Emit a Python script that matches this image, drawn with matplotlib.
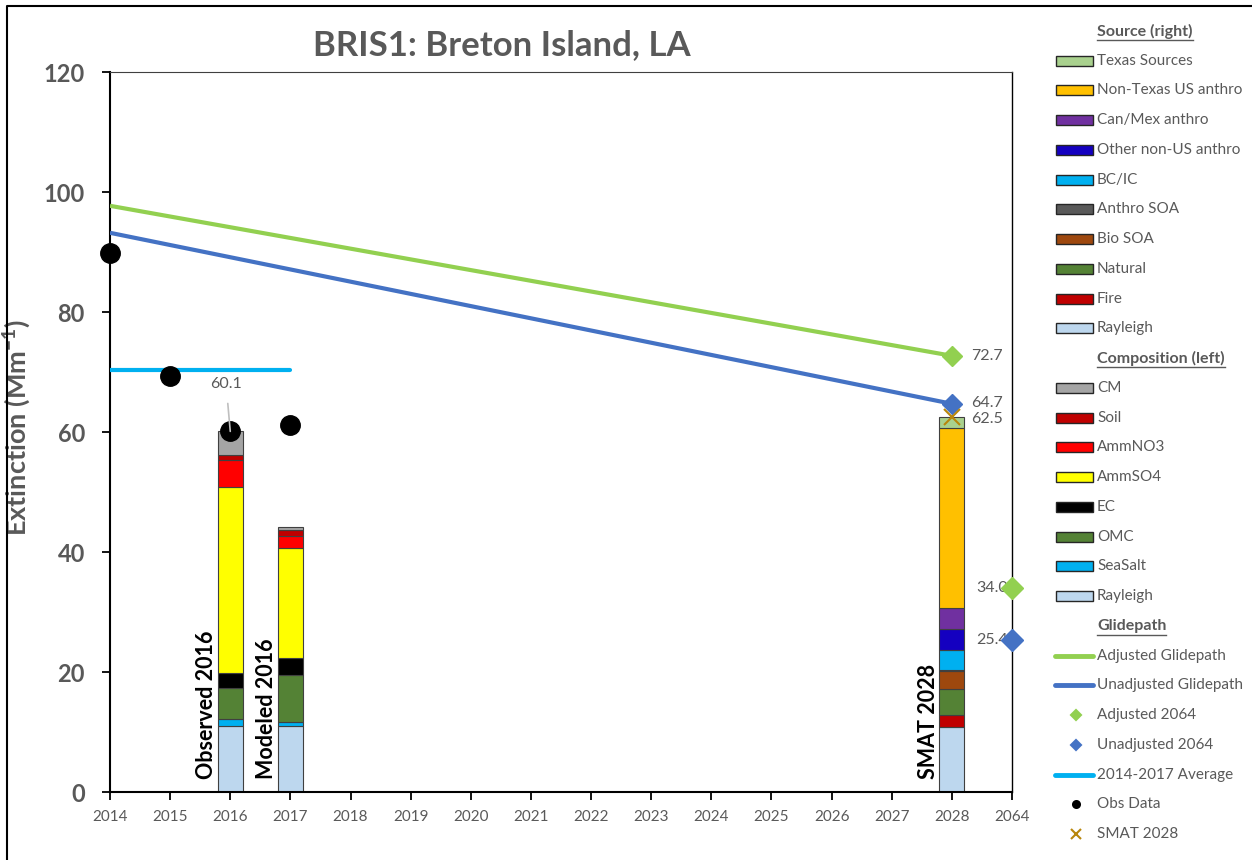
import numpy as np
import matplotlib
matplotlib.use('Agg')
import matplotlib.pyplot as plt
from matplotlib.patches import Rectangle

plt.rcParams['font.family']=['Lato','DejaVu Sans']
plt.rcParams['mathtext.fontset']='custom'
plt.rcParams['mathtext.rm']='Lato'
plt.rcParams['mathtext.bf']='Lato:bold'

years=['2014','2015','2016','2017','2018','2019','2020','2021','2022','2023','2024','2025','2026','2027','2028','2064']

#composition stacks (bottom to top)
compNames=['Rayleigh','SeaSalt','OMC','EC','AmmSO4','AmmNO3','Soil','CM']
compColors=['#BDD7EE','#00B0F0','#548235','#000000','#FFFF00','#FF0000','#C00000','#A5A5A5']
observed2016=[11.0,1.1,5.2,2.6,30.9,4.6,0.7,4.0]
modeled2016=[11.0,0.6,7.9,2.9,18.3,1.9,1.0,0.5]

#source apportionment stack for 2028 (bottom to top)
srcNames=['Rayleigh','Fire','Natural','Bio SOA','Anthro SOA','BC/IC','Other non-US anthro',
          'Can/Mex anthro','Non-Texas US anthro','Texas Sources']
srcColors=['#BDD7EE','#C00000','#548235','#9E480E','#595959','#00B0F0','#1400C0',
           '#7030A0','#FFC000','#A9D18E']
smat2028=[10.9,1.9,4.3,3.1,0.1,3.4,3.5,3.5,30.0,1.8]

barLabels=['Observed 2016','Modeled 2016','SMAT 2028']
barYears=['2016','2017','2028']

#glidepath and observations
glideYears=['2014','2028']
adjGlide=[97.7,72.7]
unadjGlide=[93.2,64.7]
adj2064=34.0
unadj2064=25.4
avgYears=['2014','2017']
avgValue=70.3
obsYears=['2014','2015','2016','2017']
obsValues=[89.9,69.4,60.1,61.2]

gray='#595959'
W,H=1252,860
fig=plt.figure(figsize=(W/100,H/100),dpi=100)
ax=fig.add_axes([110/W,1-792/H,902/W,720/H])

def xpos(yrs):
    return [years.index(y) for y in yrs]

bw=0.42
#stacked bars
for stack,names,colors,yr in [(observed2016,compNames,compColors,'2016'),
                              (modeled2016,compNames,compColors,'2017'),
                              (smat2028,srcNames,srcColors,'2028')]:
    bottom=0
    for v,c in zip(stack,colors):
        ax.bar(years.index(yr),v,bottom=bottom,width=bw,color=c,edgecolor='#404040',linewidth=0.8,zorder=2)
        bottom+=v

for lbl,yr in zip(barLabels,barYears):
    ax.text(years.index(yr)-bw/2-0.18,2.2,lbl,rotation=90,ha='center',va='bottom',
            fontsize=15.5,fontweight='bold',color='black',zorder=5)

#glidepaths
ax.plot(xpos(glideYears),adjGlide,color='#92D050',lw=3,zorder=3,solid_capstyle='butt')
ax.plot(xpos(glideYears),unadjGlide,color='#4472C4',lw=3,zorder=3,solid_capstyle='butt')
ax.plot(years.index('2028'),adjGlide[-1],marker='D',ms=10,color='#92D050',zorder=4)
ax.plot(years.index('2028'),unadjGlide[-1],marker='D',ms=10,color='#4472C4',zorder=4)
ax.plot(years.index('2064'),adj2064,marker='D',ms=11,color='#92D050',zorder=4,clip_on=False)
ax.plot(years.index('2064'),unadj2064,marker='D',ms=11,color='#4472C4',zorder=4,clip_on=False)

#2014-2017 average
ax.plot(xpos(avgYears),[avgValue,avgValue],color='#00B0F0',lw=3,zorder=3,solid_capstyle='round')

#observations
ax.plot(xpos(obsYears),obsValues,'o',color='black',ms=14,zorder=4,clip_on=False)
smatTotal=sum(smat2028)
ax.plot(years.index('2028'),smatTotal,'x',color='#B8860B',ms=12,mew=1.5,zorder=4)

#value labels
x28=years.index('2028')
x64=years.index('2064')
ax.text(x28+0.32,adjGlide[-1],'%.1f'%adjGlide[-1],fontsize=11.5,color=gray,va='center')
ax.text(x28+0.32,unadjGlide[-1]+0.2,'%.1f'%unadjGlide[-1],fontsize=11.5,color=gray,va='center')
ax.text(x28+0.32,smatTotal-0.4,'%.1f'%smatTotal,fontsize=11.5,color=gray,va='center')
ax.text(x64-0.07,adj2064,'%.1f'%adj2064,fontsize=11.5,color=gray,va='center',ha='right')
ax.text(x64-0.07,unadj2064,'%.1f'%unadj2064,fontsize=11.5,color=gray,va='center',ha='right')
i16=obsYears.index('2016')
ax.annotate('%.1f'%obsValues[i16],xy=(years.index('2016'),obsValues[i16]),
            xytext=(years.index('2016')-0.07,68.0),fontsize=11.5,color=gray,ha='center',va='center',
            arrowprops=dict(arrowstyle='-',color='#BFBFBF',lw=1.2,shrinkA=7,shrinkB=0),zorder=5)

#axes styling
ax.set_xlim(0,len(years)-1)
ax.set_ylim(0,120)
ax.set_xticks(range(len(years)))
ax.set_xticklabels(years)
ax.set_yticks(np.arange(0,121,20))
ax.tick_params(axis='y',direction='out',length=6,width=1.3,labelsize=17,labelcolor=gray,pad=12)
ax.tick_params(axis='x',direction='out',length=6,width=1.3,labelsize=11,labelcolor=gray,pad=7)
for t in ax.get_yticklabels():
    t.set_fontweight('bold')
for s in ['left','bottom']:
    ax.spines[s].set_linewidth(1.5)
ax.spines['top'].set_linewidth(0.8)
ax.spines['top'].set_color('#404040')
ax.spines['right'].set_linewidth(1.0)
ax.set_ylabel('Extinction (Mm$^{\\mathbf{-1}}$)',fontsize=19.5,fontweight='bold',color=gray)
ax.yaxis.set_label_coords((33-110)/902,(792-428)/720)

fig.text(502/W,1-45/H,'BRIS1: Breton Island, LA',fontsize=25,fontweight='bold',color=gray,ha='center',va='center')

#overlay in pixel coordinates for legend and chart border
lax=fig.add_axes([0,0,1,1])
lax.set_xlim(0,W)
lax.set_ylim(H,0)
lax.axis('off')
lax.plot([7,7,W],[H,6,6],color='black',lw=1.5)

rows=[('header','Source (right)')]
rows+=[('patch',n,c) for n,c in zip(srcNames[::-1],srcColors[::-1])]
rows+=[('header','Composition (left)')]
rows+=[('patch',n,c) for n,c in zip(compNames[::-1],compColors[::-1])]
rows+=[('header','Glidepath'),
       ('line','Adjusted Glidepath','#92D050'),
       ('line','Unadjusted Glidepath','#4472C4'),
       ('marker','Adjusted 2064','#92D050','D'),
       ('marker','Unadjusted 2064','#4472C4','D'),
       ('line','2014-2017 Average','#00B0F0'),
       ('marker','Obs Data','black','o'),
       ('marker','SMAT 2028','#B8860B','x')]

renderer=fig.canvas.get_renderer()
y0,dy=31,29.74
tx=1097
for i,r in enumerate(rows):
    y=y0+i*dy
    if r[0]=='header':
        t=lax.text(tx,y,r[1],fontsize=11.5,fontweight='bold',color=gray,va='center',ha='left')
        bb=t.get_window_extent(renderer)
        lax.plot([bb.x0,bb.x1],[y+9,y+9],color=gray,lw=1)
        continue
    if r[0]=='patch':
        lax.add_patch(Rectangle((1056,y-5),37,10,facecolor=r[2],edgecolor='#262626',lw=1))
        lax.text(tx,y,r[1],fontsize=11,color=gray,va='center',ha='left')
    elif r[0]=='line':
        lax.plot([1055,1093],[y,y],color=r[2],lw=3.5,solid_capstyle='round')
        lax.text(tx,y,r[1],fontsize=11,color=gray,va='center',ha='left')
    else:
        lax.plot(1076,y,marker=r[3],color=r[2],ms=5 if r[3]!='x' else 7,mew=1.5)
        lax.text(1097,y,r[1],fontsize=11,color=gray,va='center',ha='left')

fig.savefig('out.png',dpi=100)
